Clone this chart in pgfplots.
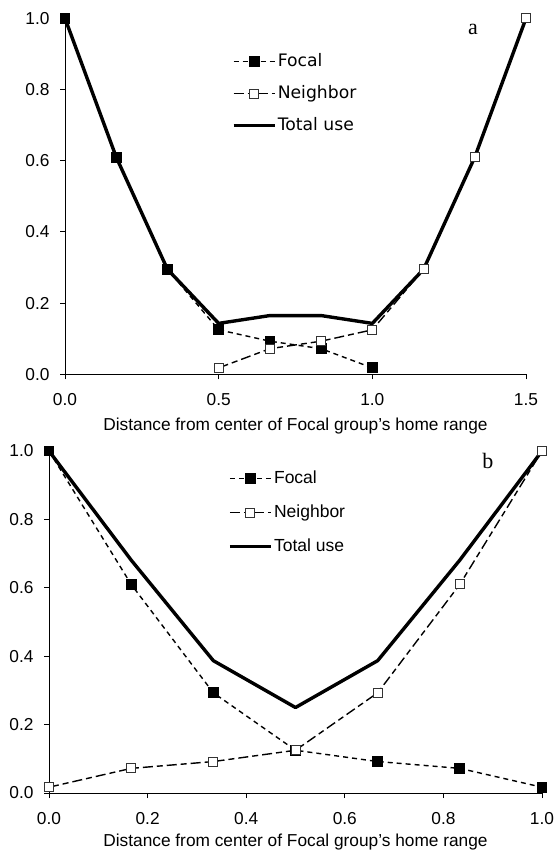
\documentclass[border=0pt]{standalone}
\usepackage{pgfplots}
\pgfplotsset{compat=1.18}
\usepackage{fontspec}
\setmainfont{Liberation Sans}
\newfontfamily\letterfont{Liberation Serif}
\newfontfamily\legfont{DejaVu Sans}

% focal: short dashes, filled squares; neighbor: long-short dashes, open squares
\pgfplotsset{
  focal/.style={black, line width=1.4pt, dash pattern=on 5pt off 4pt,
    mark=square*, mark size=4.7pt, mark options={solid, fill=black}},
  neighbor/.style={black, line width=1.4pt, dash pattern=on 10pt off 4pt on 6pt off 4pt,
    mark=square*, mark size=4.5pt, mark options={solid, fill=white, draw=black!80, line width=0.9pt}},
  total/.style={black, line width=3.4pt, no marks, line join=round},
  panel/.style={
    scale only axis, clip=false,
    axis x line=bottom, axis y line=left,
    axis line style={-, line width=1pt},
    tick align=outside, major tick length=5pt,
    tick style={line width=1pt, black},
    ymin=0, ymax=1, ytick={0,0.2,0.4,0.6,0.8,1},
    font=\fontsize{17.3}{20}\selectfont,
    xticklabel style={yshift=-11pt},
    yticklabel style={xshift=-7pt},
    /pgf/number format/fixed, /pgf/number format/fixed zerofill,
    /pgf/number format/precision=1, /pgf/number format/assume math mode=true,
    xlabel={Distance from center of Focal group's home range},
    legend cell align=left,
    legend image code/.code={
      \draw[mark repeat=2, mark phase=2, ##1] plot coordinates {(0pt,0pt) (20.5pt,0pt) (41pt,0pt)};},
  },
}

\begin{document}
\begin{tikzpicture}
\useasboundingbox (0pt,0pt) rectangle (556pt,-853pt);

% ---- panel a ----
\begin{axis}[panel,
  at={(65pt,-374.3pt)}, anchor=south west,
  width=461pt, height=356pt,
  xmin=0, xmax=1.5, xtick={0,0.5,1,1.5},
  xlabel style={yshift=-5pt},
  legend style={at={(0.3616,0.788)}, anchor=west, draw=none, fill=none,
    inner sep=0pt, row sep=12pt, font=\legfont\fontsize{17.2}{20}\selectfont,
    nodes={inner sep=1.5pt, text height=13pt, text depth=4pt}},
]
\addplot[total, forget plot] coordinates {
  (0,1.0) (0.1667,0.61) (0.3333,0.295) (0.5,0.143) (0.6667,0.165)
  (0.8333,0.165) (1.0,0.143) (1.1667,0.295) (1.3333,0.61) (1.5,1.0)
};
\addplot[focal] coordinates {
  (0,1.0) (0.1667,0.61) (0.3333,0.295) (0.5,0.125) (0.6667,0.093)
  (0.8333,0.072) (1.0,0.018)
};
\addlegendentry{Focal}
\addplot[neighbor] coordinates {
  (0.5,0.018) (0.6667,0.072) (0.8333,0.093) (1.0,0.125) (1.1667,0.295)
  (1.3333,0.61) (1.5,1.0)
};
\addlegendentry{Neighbor}
\addlegendimage{total}
\addlegendentry{Total use}
\node[font=\letterfont\fontsize{22}{24}\selectfont] at (rel axis cs:0.885,0.97) {a};
\end{axis}

% ---- panel b ----
\begin{axis}[panel,
  at={(49pt,-793pt)}, anchor=south west,
  width=493pt, height=342pt,
  xmin=0, xmax=1, xtick={0,0.2,0.4,0.6,0.8,1},
  xlabel style={yshift=-2pt},
  legend style={at={(0.363,0.82)}, anchor=west, draw=none, fill=none,
    inner sep=0pt, row sep=14pt, font=\fontsize{17.5}{20}\selectfont,
    nodes={inner sep=1.5pt, text height=13pt, text depth=4pt}},
]
\addplot[total, forget plot] coordinates {
  (0,1.0) (0.1667,0.681) (0.3333,0.387) (0.5,0.25) (0.6667,0.387)
  (0.8333,0.681) (1.0,1.0)
};
\addplot[focal] coordinates {
  (0,1.0) (0.1667,0.61) (0.3333,0.293) (0.5,0.125) (0.6667,0.092)
  (0.8333,0.072) (1.0,0.017)
};
\addlegendentry{Focal}
\addplot[neighbor] coordinates {
  (0,0.017) (0.1667,0.072) (0.3333,0.092) (0.5,0.125) (0.6667,0.293)
  (0.8333,0.61) (1.0,1.0)
};
\addlegendentry{Neighbor}
\addlegendimage{total}
\addlegendentry{Total use}
\node[font=\letterfont\fontsize{22}{24}\selectfont] at (rel axis cs:0.89,0.97) {b};
\end{axis}
\end{tikzpicture}
\end{document}
